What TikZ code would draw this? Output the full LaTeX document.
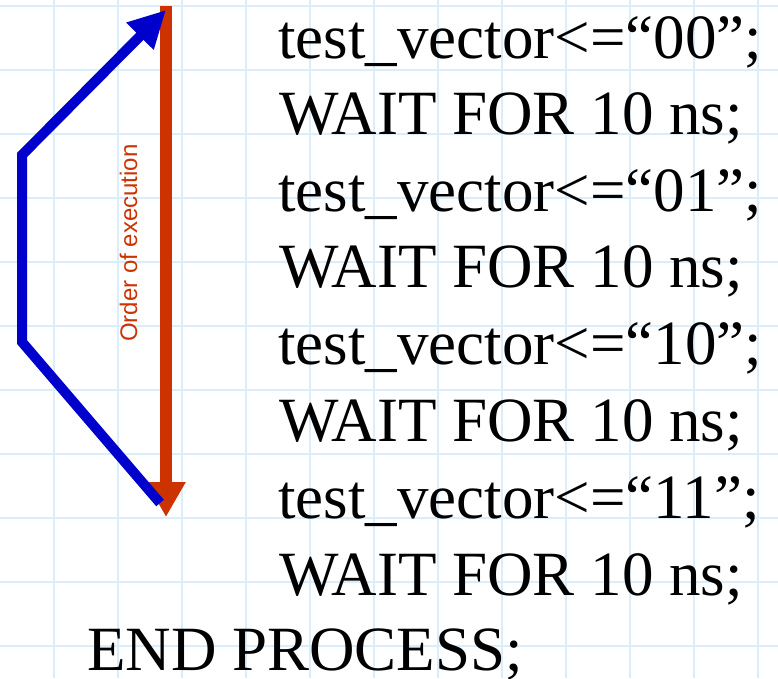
\documentclass[tikz,border=0pt]{standalone}
\usepackage{fontspec}
\setmainfont{Liberation Serif}
\newfontfamily\labelsans{Liberation Sans}
\usetikzlibrary{arrows.meta}
\definecolor{gridblue}{RGB}{218,237,252}
\definecolor{execred}{RGB}{204,51,0}
\definecolor{flowblue}{RGB}{0,0,204}
\tikzset{
  gridline/.style={draw=gridblue, line width=2pt},
  codeline/.style={anchor=base west, inner sep=0pt, font=\fontsize{63}{63}\selectfont},
  redarrow/.style={draw=execred, line width=12pt, line cap=butt, -{Triangle[length=35pt,width=37pt]}},
  bluearrow/.style={draw=flowblue, line width=10pt, line cap=butt, line join=miter, -{Triangle[length=37pt,width=36pt]}},
  redlabel/.style={text=execred, rotate=90, anchor=base, inner sep=0pt, font=\labelsans\fontsize{24}{24}\selectfont}
}
\begin{document}
\begin{tikzpicture}[x=1pt,y=-1pt]
\useasboundingbox (0,0) rectangle (778,678);
\fill[white] (0,0) rectangle (778,678);
\foreach \gx in {54,118,...,758} \draw[gridline] (\gx,0) -- (\gx,678);
\foreach \gy in {6,70,...,646} \draw[gridline] (0,\gy) -- (778,\gy);

\coordinate (rtop) at (166,6);
\coordinate (rbot) at (166,517);
\draw[redarrow] (rtop) -- (rbot);
\node[redlabel] (order) at (137,243) {Order of execution};

\coordinate (b0) at (160,503);
\coordinate (b1) at (22,342);
\coordinate (b2) at (22,155);
\coordinate (b3) at (166,10);
\draw[bluearrow] (b0) -- (b1) -- (b2) -- (b3);

\node[codeline] (l1) at (278,58) {test\_vector<=“00”;};
\node[codeline] (l2) at (279,134) {WAIT FOR 10 ns;};
\node[codeline] (l3) at (278,211) {test\_vector<=“01”;};
\node[codeline] (l4) at (279,287) {WAIT FOR 10 ns;};
\node[codeline] (l5) at (278,364) {test\_vector<=“10”;};
\node[codeline] (l6) at (279,441) {WAIT FOR 10 ns;};
\node[codeline] (l7) at (278,518) {test\_vector<=“11”;};
\node[codeline] (l8) at (279,595) {WAIT FOR 10 ns;};
\node[codeline] (l9) at (87,670) {END PROCESS;};
\end{tikzpicture}
\end{document}
